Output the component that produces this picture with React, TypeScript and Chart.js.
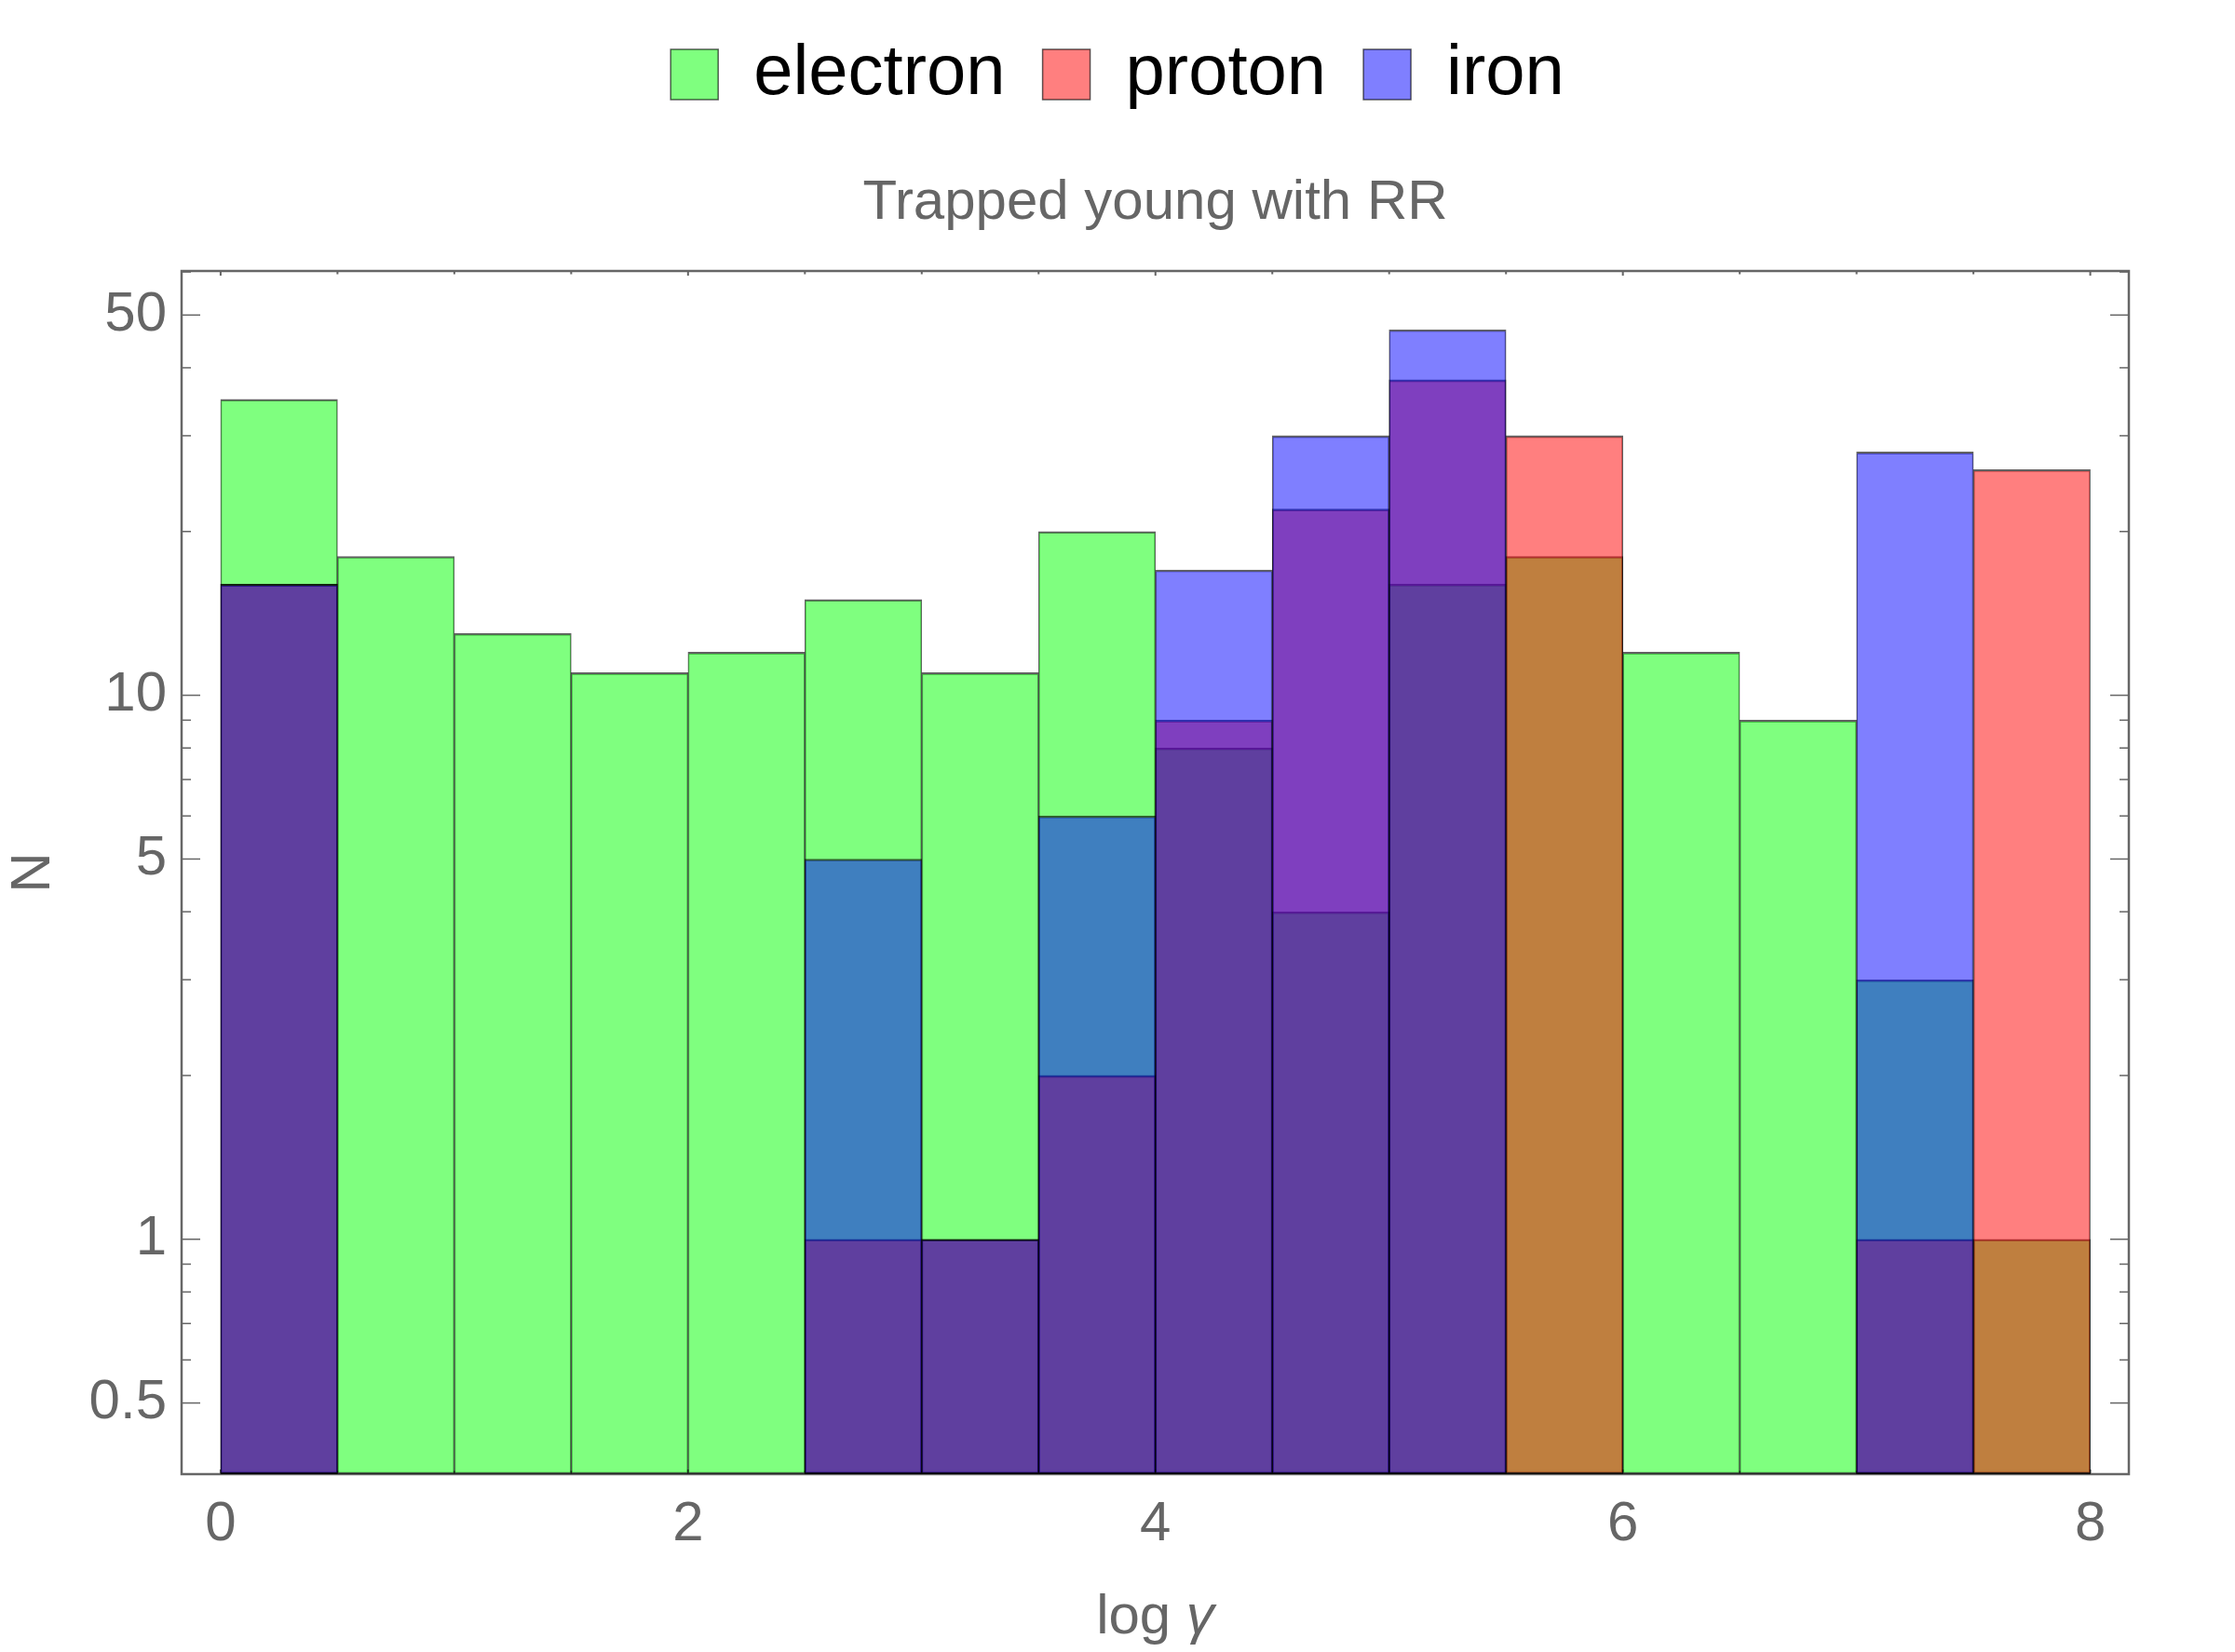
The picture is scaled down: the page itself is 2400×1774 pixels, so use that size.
import { useEffect, useRef } from "react";
import { Chart, registerables } from "chart.js";
import type { ChartConfiguration, Plugin } from "chart.js";

Chart.register(...registerables);

const FONT = "'Liberation Sans', Arial, Helvetica, sans-serif";
Chart.defaults.font.family = FONT;

// histogram bins (width 0.5), centres of the bins
const binCenters = [0.25, 0.75, 1.25, 1.75, 2.25, 2.75, 3.25, 3.75, 4.25, 4.75, 5.25, 5.75, 6.25, 6.75, 7.25, 7.75];

// counts per bin, null = empty bin
const electronCounts = [35, 18, 13, 11, 12, 15, 11, 20, 8, 4, 16, 18, 12, 9, 3, 1];
const protonCounts = [16, null, null, null, null, 1, 1, 2, 9, 22, 38, 30, null, null, 1, 26];
const ironCounts = [16, null, null, null, null, 5, 1, 6, 17, 30, 47, null, null, null, 28, null];

const xTickValues = [0, 2, 4, 6, 8];
const xMinorTickValues = [0.5, 1, 1.5, 2.5, 3, 3.5, 4.5, 5, 5.5, 6.5, 7, 7.5];
const yTickValues = [0.5, 1, 5, 10, 50];
const yMinorTickValues = [0.6, 0.7, 0.8, 0.9, 2, 3, 4, 6, 7, 8, 9, 20, 30, 40, 60];

const chartTitle = "Trapped young with RR";
const xTitleMain = "log ";
const xTitleSymbol = "γ";
const yTitle = "N";

const AXIS_GREY = "#666";
const EDGE = "rgba(0,0,0,0.62)";

// Mathematica-like frame with inward ticks on all four sides
const frameTicks: Plugin = {
  id: "frameTicks",
  beforeDatasetsDraw(chart) {
    const { ctx, chartArea: a, scales } = chart;
    const xs = scales.x;
    const ys = scales.y;
    const seg = (x1: number, y1: number, x2: number, y2: number) => {
      ctx.beginPath();
      ctx.moveTo(x1, y1);
      ctx.lineTo(x2, y2);
      ctx.stroke();
    };
    ctx.save();
    ctx.strokeStyle = AXIS_GREY;
    ctx.lineWidth = 1.5;
    const yMark = (v: number, len: number) => {
      const p = ys.getPixelForValue(v);
      seg(a.left, p, a.left + len, p);
      seg(a.right, p, a.right - len, p);
    };
    yTickValues.forEach((v) => yMark(v, 20));
    yMinorTickValues.forEach((v) => yMark(v, 10));
    ctx.lineWidth = 2;
    const xMark = (v: number, len: number) => {
      const p = xs.getPixelForValue(v);
      seg(p, a.top, p, a.top + len);
      seg(p, a.bottom, p, a.bottom - len);
    };
    xTickValues.forEach((v) => xMark(v, 5));
    xMinorTickValues.forEach((v) => xMark(v, 3.5));
    ctx.lineWidth = 2.5;
    ctx.strokeRect(a.left, a.top, a.right - a.left, a.bottom - a.top);
    ctx.restore();
  },
};

// "log γ" with an italic gamma, centred under the frame
const xAxisTitle: Plugin = {
  id: "xAxisTitle",
  afterDraw(chart) {
    const { ctx, chartArea: a } = chart;
    ctx.save();
    ctx.fillStyle = AXIS_GREY;
    ctx.textBaseline = "alphabetic";
    ctx.textAlign = "left";
    const normal = `60px ${FONT}`;
    const italic = `italic 60px ${FONT}`;
    ctx.font = normal;
    const w1 = ctx.measureText(xTitleMain).width;
    ctx.font = italic;
    const w2 = ctx.measureText(xTitleSymbol).width;
    const x0 = (a.left + a.right) / 2 - (w1 + w2) / 2;
    const y0 = a.bottom + 171;
    ctx.font = normal;
    ctx.fillText(xTitleMain, x0, y0);
    ctx.font = italic;
    ctx.fillText(xTitleSymbol, x0 + w1, y0);
    ctx.restore();
  },
};

function series(label: string, counts: (number | null)[], color: string, order: number) {
  return {
    label,
    data: binCenters.map((x, i) => ({ x, y: counts[i] })),
    backgroundColor: color,
    borderColor: EDGE,
    borderWidth: { top: 2, right: 1, bottom: 2, left: 1 },
    borderSkipped: false as const,
    grouped: false,
    barPercentage: 1,
    categoryPercentage: 1,
    order,
  };
}

export default function App() {
  const canvasRef = useRef<HTMLCanvasElement | null>(null);

  useEffect(() => {
    if (!canvasRef.current) return;

    const config: ChartConfiguration<"bar"> = {
      type: "bar",
      data: {
        datasets: [
          series("electron", electronCounts, "rgba(0,255,0,0.5)", 3),
          series("proton", protonCounts, "rgba(255,0,0,0.5)", 2),
          series("iron", ironCounts, "rgba(0,0,255,0.5)", 1),
        ] as any,
      },
      options: {
        responsive: false,
        devicePixelRatio: 1,
        animation: false,
        events: [],
        layout: { padding: { top: 2, left: 0, right: 0, bottom: 0 } },
        plugins: {
          tooltip: { enabled: false },
          legend: {
            position: "top",
            weight: 1000,
            labels: {
              color: "#000",
              font: { size: 76 },
              boxWidth: 51,
              boxHeight: 54,
              padding: 40,
              sort: (a, b) => a.datasetIndex! - b.datasetIndex!,
            },
          },
          title: {
            display: true,
            text: chartTitle,
            color: AXIS_GREY,
            font: { size: 60, weight: "normal" },
            padding: { top: 54, bottom: 37 },
            fullSize: false,
            weight: 500,
          },
        },
        scales: {
          x: {
            type: "linear",
            offset: false,
            min: -0.167,
            max: 8.165,
            afterBuildTicks: (s) => {
              s.ticks = xTickValues.map((v) => ({ value: v }));
            },
            afterFit: (s) => {
              s.height = 191;
            },
            grid: { display: false, drawTicks: false, offset: false },
            border: { display: false },
            ticks: {
              color: AXIS_GREY,
              font: { size: 60 },
              padding: 18,
              autoSkip: false,
              maxRotation: 0,
              callback: (v) => String(v),
            },
          },
          y: {
            type: "logarithmic",
            min: 0.37,
            max: 60.25,
            afterBuildTicks: (s) => {
              s.ticks = yTickValues.map((v) => ({ value: v }));
            },
            afterFit: (s) => {
              s.width = 195;
            },
            grid: { display: false, drawTicks: false },
            border: { display: false },
            ticks: {
              color: AXIS_GREY,
              font: { size: 60 },
              padding: 16,
              autoSkip: false,
              callback: (v) => String(v),
            },
            title: {
              display: true,
              text: yTitle,
              color: AXIS_GREY,
              font: { size: 60 },
              padding: 0,
            },
          },
          // empty right-hand strip so the frame ends where the reference does
          yRight: {
            type: "linear",
            position: "right",
            display: true,
            afterFit: (s) => {
              s.width = 114;
            },
            grid: { display: false, drawTicks: false },
            border: { display: false },
            ticks: { display: false },
          },
        },
      },
      plugins: [frameTicks, xAxisTitle],
    };

    const chart = new Chart(canvasRef.current, config);
    return () => {
      chart.destroy();
    };
  }, []);

  return (
    <div style={{ position: "fixed", left: 0, top: 0, width: 2400, height: 1774, background: "#fff" }}>
      <canvas ref={canvasRef} width={2400} height={1774} style={{ width: 2400, height: 1774, display: "block" }} />
    </div>
  );
}
